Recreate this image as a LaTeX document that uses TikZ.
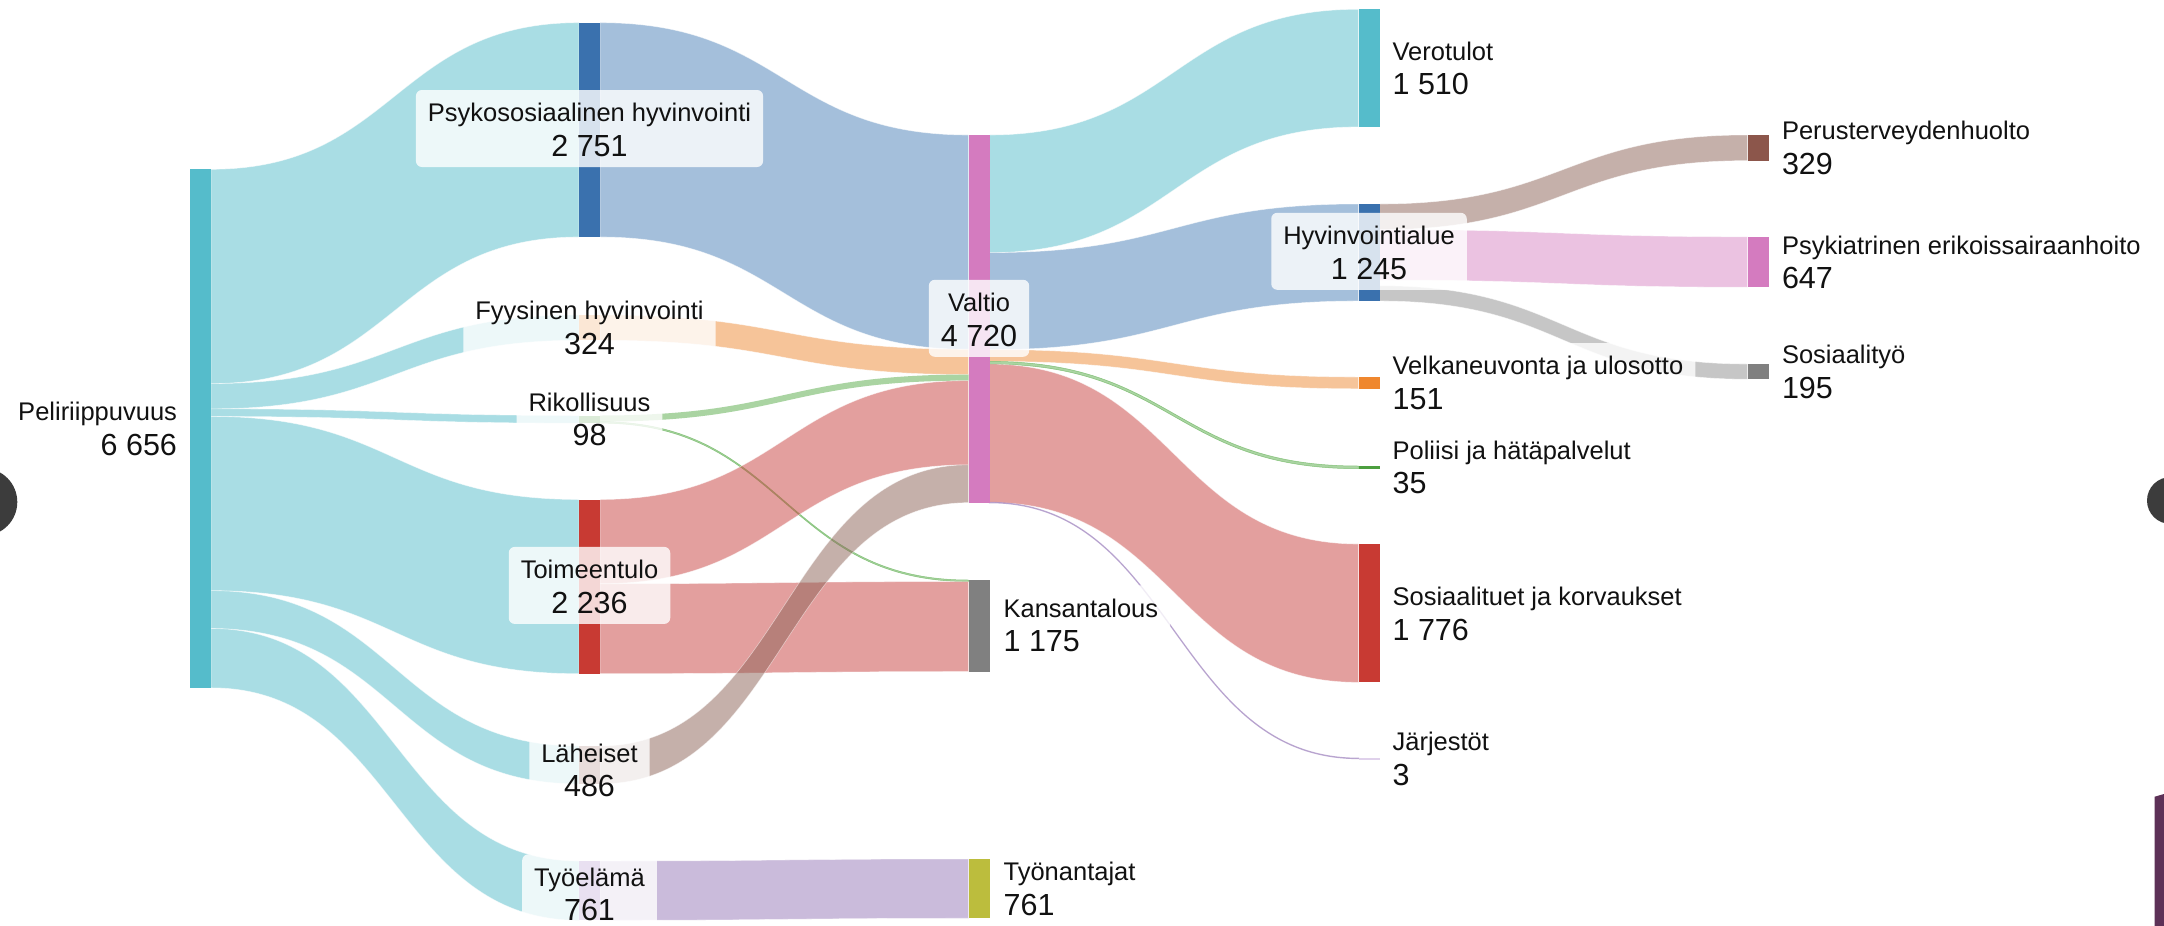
\documentclass[tikz,border=0pt]{standalone}
\usepackage{fontspec}
\setmainfont{Liberation Sans}
\usetikzlibrary{calc,fit}
\pgfdeclarelayer{bg}\pgfdeclarelayer{links}\pgfdeclarelayer{bars}\pgfdeclarelayer{boxes}
\pgfsetlayers{bg,links,bars,boxes,main}
\definecolor{ccyan}{HTML}{55BCCB}
\definecolor{cblue}{HTML}{3A71AE}
\definecolor{lblue}{HTML}{4A80B8}
\definecolor{corange}{HTML}{EF872E}
\definecolor{lorange}{HTML}{EE8B35}
\definecolor{cgreen}{HTML}{4C9F3F}
\definecolor{lgreen}{HTML}{56AB47}
\definecolor{cred}{HTML}{C83A33}
\definecolor{lred}{HTML}{C8413F}
\definecolor{cbrown}{HTML}{8C564B}
\definecolor{lbrown}{HTML}{8D6357}
\definecolor{cpurple}{HTML}{9467BD}
\definecolor{lpurple}{HTML}{9779B9}
\definecolor{cpink}{HTML}{D47BBF}
\definecolor{lpink}{HTML}{D987C5}
\definecolor{cgray}{HTML}{808080}
\definecolor{lgray}{HTML}{8F8F8F}
\definecolor{colive}{HTML}{BCBD3D}
\definecolor{txt}{HTML}{111111}
\definecolor{cdark}{HTML}{3C3C3C}
\definecolor{cplum}{HTML}{5D3157}
\newcommand\namef{\fontsize{25.5}{30}\selectfont}
\newcommand\numf{\fontsize{30.5}{36}\selectfont}
\def\kk{0.0779}
\tikzset{
  skbarst/.style={rectangle, inner sep=0pt, outer sep=0pt, minimum width=21pt, anchor=north west},
  namet/.style={inner sep=0pt, outer sep=0pt, font=\namef, text height=23.7pt, text=txt},
  numt/.style={inner sep=0pt, outer sep=0pt, font=\numf, text depth=2.8pt, text=txt},
  lbox/.style={rectangle, rounded corners=6pt, fill=white, fill opacity=0.8, inner xsep=12pt, inner ysep=8pt},
  band/.style={fill opacity=0.5, draw=white, draw opacity=0.5, line width=0.6pt},
  solidband/.style={draw=none},
  thinband/.style={draw=#1, draw opacity=0.6, line width=0.5pt},
  hairband/.style={draw=#1, draw opacity=0.6, line width=1.2pt},
}
% bar: name, x, ytop, value, colour
\newcommand\skbar[5]{\node[skbarst, fill=#5, minimum height={#4*\kk}] (#1) at (#2,#3) {};}
% link: [opts], source, offset in source, target, offset in target, value, colour
\newcommand\sklink[7][]{%
  \fill[band, fill=#7, #1] let \p1=($(#2.north east)+(0,{#3*\kk})$), \p2=($(#4.north west)+(0,{#5*\kk})$), \n1={#6*\kk} in
  (\p1) .. controls ({(\x1+\x2)/2},\y1) and ({(\x1+\x2)/2},\y2) .. (\p2)
  -- (\x2,{\y2-\n1*1pt}) .. controls ({(\x1+\x2)/2},{\y2-\n1*1pt}) and ({(\x1+\x2)/2},{\y1-\n1*1pt}) .. (\x1,{\y1-\n1*1pt}) -- cycle;}
% label: id, anchor, x, ycentre, name, number
\newcommand\sklabel[6]{%
  \node[namet, anchor=#2] (#1n) at (#3,{#4-8}) {#5};
  \node[numt, anchor=#2] (#1v) at (#3,{#4+26.5}) {#6};
  \begin{pgfonlayer}{boxes}\node[lbox, fit=(#1n)(#1v)] (#1b) {};\end{pgfonlayer}}
\begin{document}
\begin{tikzpicture}[x=1pt,y=-1pt]
\useasboundingbox (0,0) rectangle (2164,926);
\clip (0,0) rectangle (2164,926);
\begin{pgfonlayer}{bg}
\fill[white] (0,0) rectangle (2164,926);
\end{pgfonlayer}
\begin{pgfonlayer}{bars}
\skbar{peli}{190}{169.3}{6656}{ccyan}
\skbar{psyko}{579}{22.7}{2751}{cblue}
\skbar{fyys}{579}{315}{324}{corange}
\skbar{rik}{579}{415.5}{98}{cgreen}
\skbar{toim}{579}{499.5}{2236}{cred}
\skbar{lah}{579}{746}{486}{cbrown}
\skbar{tyo}{579}{861}{761}{cpurple}
\skbar{valtio}{968.5}{135}{4720}{cpink}
\skbar{kans}{968.5}{580}{1175}{cgray}
\skbar{tyon}{968.5}{859}{761}{colive}
\skbar{vero}{1358.5}{9.3}{1510}{ccyan}
\skbar{hyv}{1358.5}{204}{1245}{cblue}
\skbar{velk}{1358.5}{377}{151}{corange}
\skbar{pol}{1358.5}{466}{35}{cgreen}
\skbar{sos}{1358.5}{544}{1776}{cred}
\skbar{jar}{1358.5}{758.3}{18}{cpurple!30}
\skbar{perus}{1747.5}{135}{329}{cbrown}
\skbar{psyk}{1747.5}{236.8}{647}{cpink}
\skbar{sosty}{1747.5}{364}{195}{cgray}
\end{pgfonlayer}
\begin{pgfonlayer}{links}
\sklink{peli}{0}{psyko}{0}{2751}{ccyan}
\sklink{peli}{2751}{fyys}{0}{324}{ccyan}
\sklink{peli}{3075}{rik}{0}{98}{ccyan}
\sklink{peli}{3173}{toim}{0}{2236}{ccyan}
\sklink{peli}{5409}{lah}{0}{486}{ccyan}
\sklink{peli}{5895}{tyo}{0}{761}{ccyan}
\sklink{psyko}{0}{valtio}{0}{2751}{lblue}
\sklink{fyys}{0}{valtio}{2751}{324}{lorange}
\sklink[solidband]{rik}{0}{valtio}{3075}{78}{lgreen}
\sklink[thinband=lgreen]{rik}{78}{kans}{0}{20}{lgreen}
\sklink{toim}{0}{valtio}{3153}{1081}{lred}
\sklink{toim}{1081}{kans}{20}{1155}{lred}
\sklink{lah}{0}{valtio}{4234}{486}{lbrown}
\sklink{tyo}{0}{tyon}{0}{761}{lpurple}
\sklink{valtio}{0}{vero}{0}{1510}{ccyan}
\sklink{valtio}{1510}{hyv}{0}{1245}{lblue}
\sklink{valtio}{2755}{velk}{0}{151}{lorange}
\sklink[thinband=lgreen]{valtio}{2906}{pol}{0}{35}{lgreen}
\sklink{valtio}{2941}{sos}{0}{1776}{lred}
\sklink[hairband=lpurple]{valtio}{4717}{jar}{0}{3}{lpurple}
\sklink{hyv}{0}{perus}{0}{329}{lbrown}
\sklink{hyv}{329}{psyk}{0}{647}{lpink}
\sklink{hyv}{1050}{sosty}{0}{195}{lgray}
\end{pgfonlayer}
\sklabel{Lpeli}{base east}{177}{428.5}{Peliriippuvuus}{6 656}
\sklabel{Lpsyko}{base}{589.5}{129.7}{Psykososiaalinen hyvinvointi}{2 751}
\sklabel{Lfyys}{base}{589.5}{327.6}{Fyysinen hyvinvointi}{324}
\sklabel{Lrik}{base}{589.5}{419.3}{Rikollisuus}{98}
\sklabel{Ltoim}{base}{589.5}{586.6}{Toimeentulo}{2 236}
\sklabel{Llah}{base}{589.5}{770}{Läheiset}{486}
\sklabel{Ltyo}{base}{589.5}{894}{Työelämä}{761}
\sklabel{Lvaltio}{base}{979}{319.5}{Valtio}{4 720}
\sklabel{Lkans}{base west}{1003.6}{625}{Kansantalous}{1 175}
\sklabel{Ltyon}{base west}{1003.6}{888.5}{Työnantajat}{761}
\sklabel{Lvero}{base west}{1392.6}{68.1}{Verotulot}{1 510}
\sklabel{Lhyv}{base}{1369}{252.5}{Hyvinvointialue}{1 245}
\sklabel{Lvelk}{base west}{1392.6}{382.9}{Velkaneuvonta ja ulosotto}{151}
\sklabel{Lpol}{base west}{1392.6}{467.4}{Poliisi ja hätäpalvelut}{35}
\sklabel{Lsos}{base west}{1392.6}{613.5}{Sosiaalituet ja korvaukset}{1 776}
\sklabel{Ljar}{base west}{1392.6}{758.6}{Järjestöt}{3}
\sklabel{Lperus}{base west}{1782}{147.8}{Perusterveydenhuolto}{329}
\sklabel{Lpsyk}{base west}{1782}{262}{Psykiatrinen erikoissairaanhoito}{647}
\sklabel{Lsosty}{base west}{1782}{371.6}{Sosiaalityö}{195}
% screenshot edge elements
\fill[cdark] (-16.5,502) circle [radius=33.8pt];
\fill[cdark] (2170.4,500.5) circle [radius=23.4pt];
\fill[cplum] (2154.7,796.7) -- (2164,794) -- (2164,926) -- (2154.7,926) -- cycle;
\end{tikzpicture}
\end{document}
